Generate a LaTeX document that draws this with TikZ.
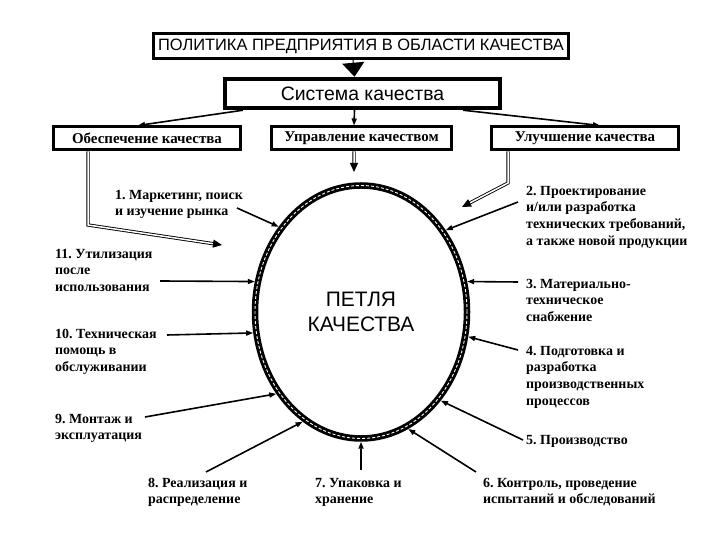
\documentclass[tikz,border=0pt]{standalone}
\usepackage{fontspec}
\setmainfont{Liberation Serif}
\setsansfont{Liberation Sans}
\usetikzlibrary{arrows.meta,shapes.geometric}
\frenchspacing
\begin{document}
\begin{tikzpicture}[x=1bp, y=1bp,
  headbox/.style={draw, line width=3bp, inner sep=0pt, font=\sffamily\fontsize{16.5}{16.5}\selectfont},
  subbox/.style={draw, line width=3bp, minimum height=23bp, inner sep=0pt, font=\bfseries\fontsize{15}{15}\selectfont},
  stage/.style={anchor=base west, align=left, inner sep=0pt, font=\bfseries\fontsize{14}{16.7}\selectfont},
  feed/.style={line width=1.6bp, -{Triangle[length=7bp,width=5bp]}},
  twin/.style={double, double distance=1.5bp, line width=0.9bp, -{Triangle[length=9bp,width=8bp]}}]
  \useasboundingbox (0,0) rectangle (720,540);
  % Policy on top, then the quality system.
  \node[headbox, minimum width=414bp, minimum height=25bp] (policy) at (361,494)
    {ПОЛИТИКА ПРЕДПРИЯТИЯ В ОБЛАСТИ КАЧЕСТВА};
  \node[headbox, line width=4.5bp, minimum width=275bp, minimum height=29bp,
    font=\sffamily\fontsize{19.5}{19.5}\selectfont] (system) at (362.5,446.5) {Система качества};
  \draw[line width=1bp, -{Triangle[length=14bp,width=22bp]}]
    ([xshift=-8bp]policy.south) -- ([xshift=-8bp]system.north);
  % The three branches.
  \node[subbox, minimum width=187bp] (assure) at (147,401.5) {Обеспечение качества};
  \node[subbox, minimum width=180bp] (manage) at (361.5,401.5) {Управление качеством};
  \node[subbox, minimum width=187bp] (improve) at (585,401.5) {Улучшение качества};
  \draw[feed] ([xshift=20bp]system.south west) -- ([xshift=-9bp]assure.north);
  \draw[feed] ([xshift=-8bp]system.south) -- ([xshift=-7.5bp]manage.north);
  \draw[feed] ([xshift=-39bp]system.south east) -- ([xshift=15bp]improve.north);
  % Double arrows down towards the loop.
  \coordinate (assure-bend) at (88,315);
  \coordinate (assure-tip) at (222,295);
  \coordinate (improve-bend) at (508,357);
  \coordinate (improve-tip) at (462,333);
  \coordinate (manage-tip) at (354,368);
  \draw[twin] ([xshift=-59bp]assure.south) -- (assure-bend) -- (assure-tip);
  \draw[twin] ([xshift=-77bp]improve.south) -- (improve-bend) -- (improve-tip);
  \draw[twin] ([xshift=-7.5bp]manage.south) -- (manage-tip);
  % The loop itself.
  \node[ellipse, draw, line width=6.5bp, minimum width=212bp, minimum height=253bp, inner sep=0pt,
    postaction={draw=white, line width=0.9bp, dash pattern=on 3bp off 2bp},
    align=center, font=\sffamily\fontsize{21}{25}\selectfont] (loop) at (361,228)
    {ПЕТЛЯ\\КАЧЕСТВА};
  % Stages round the loop (placed by the baseline of their last line).
  \node[stage] (s1) at (115,324.3) {1. Маркетинг, поиск\\и изучение рынка};
  \node[stage] (s2) at (526,294.9) {2. Проектирование\\и/или разработка\\технических требований,\\а также новой продукции};
  \node[stage] (s3) at (526,218.6) {3. Материально-\\техническое\\снабжение};
  \node[stage] (s4) at (526,134.9) {4. Подготовка и\\разработка\\производственных\\процессов};
  \node[stage] (s5) at (526,95) {5. Производство};
  \node[stage] (s6) at (483,36.3) {6. Контроль, проведение\\испытаний и обследований};
  \node[stage] (s7) at (315,36.3) {7. Упаковка и\\хранение};
  \node[stage] (s8) at (148,36.3) {8. Реализация и\\распределение};
  \node[stage] (s9) at (55,100.3) {9. Монтаж и\\эксплуатация};
  \node[stage] (s10) at (55,168.6) {10. Техническая\\помощь в\\обслуживании};
  \node[stage] (s11) at (55,248.6) {11. Утилизация\\после\\использования};
  \draw[feed] ([xshift=122bp,yshift=7.7bp]s1.base west) -- (loop.134);
  \draw[feed] ([xshift=-8bp,yshift=43.1bp]s2.base west) -- (loop.44);
  \draw[feed] ([xshift=-8bp,yshift=39.4bp]s3.base west) -- (loop.16);
  \draw[feed] ([xshift=-8bp,yshift=55.1bp]s4.base west) -- (loop.-13);
  \draw[feed] ([xshift=-3bp,yshift=5bp]s5.base west) -- (loop.-48);
  \draw[feed] ([xshift=-7bp,yshift=31.7bp]s6.base west) -- (loop.-68);
  \draw[feed] ([xshift=46bp,yshift=33.7bp]s7.base west) -- (loop.south);
  \draw[feed] ([xshift=58bp,yshift=31.7bp]s8.base west) -- (loop.242);
  \draw[feed] ([xshift=90bp,yshift=22.7bp]s9.base west) -- (loop.224);
  \draw[feed] ([xshift=112bp,yshift=36.4bp]s10.base west) -- (loop.191);
  \draw[feed] ([xshift=105bp,yshift=10.4bp]s11.base west) -- (loop.164);
\end{tikzpicture}
\end{document}
